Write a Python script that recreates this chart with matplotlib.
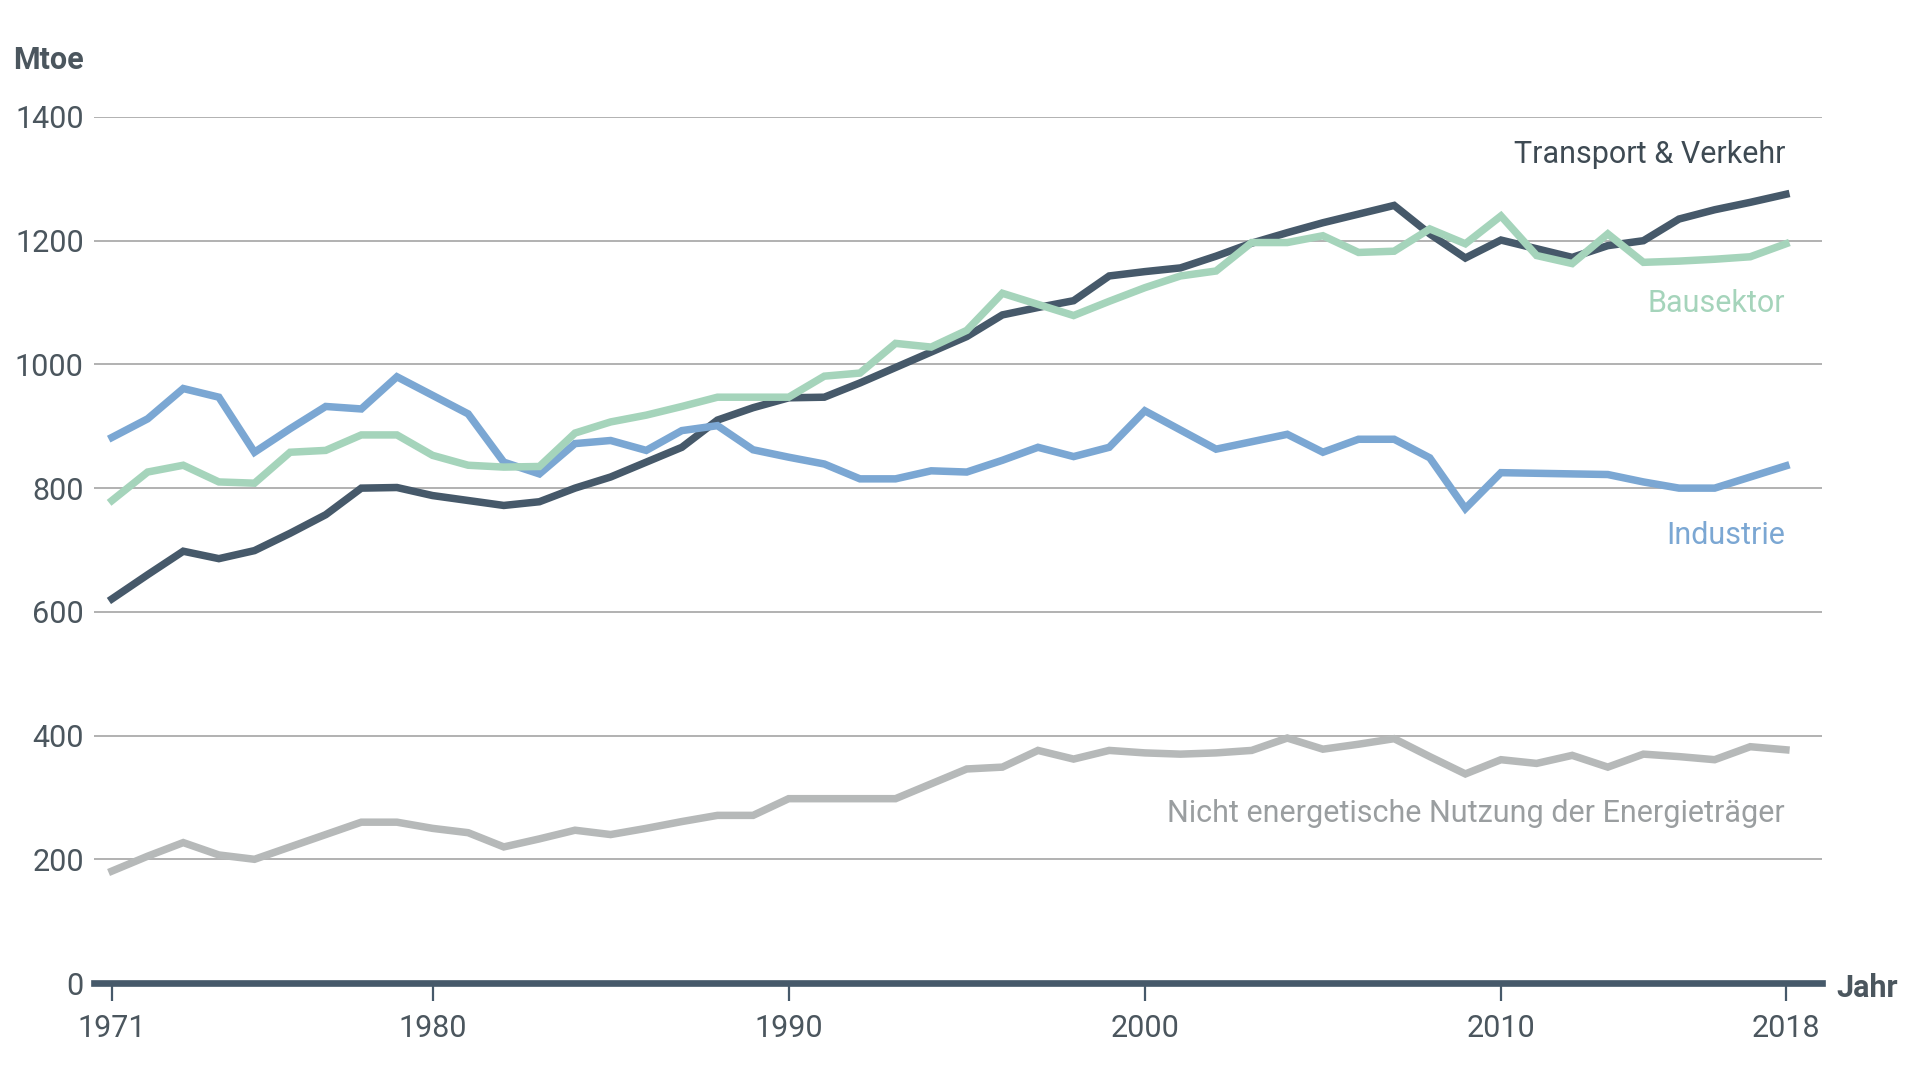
import matplotlib
matplotlib.use("Agg")
from matplotlib import pyplot as plt

plt.rcParams["font.family"] = ["Roboto", "DejaVu Sans"]

years = list(range(1971, 2019))

transport = [621, 660, 698, 686, 699, 727, 757, 800, 801, 788,
             780, 772, 778, 800, 818, 842, 866, 910, 930, 946,
             947, 970, 995, 1020, 1045, 1080, 1092, 1103, 1143, 1150,
             1156, 1175, 1196, 1213, 1229, 1243, 1257, 1211, 1172, 1201,
             1187, 1173, 1192, 1200, 1235, 1250, 1262, 1275]

industrie = [882, 912, 961, 947, 858, 896, 932, 928, 980, 950,
             920, 842, 823, 872, 877, 861, 893, 901, 862, 850,
             839, 815, 815, 828, 826, 845, 866, 851, 866, 925,
             894, 863, 875, 887, 858, 879, 879, 849, 767, 825,
             824, 823, 822, 810, 800, 800, 818, 836]

bausektor = [780, 826, 837, 810, 808, 858, 861, 886, 886, 853,
             837, 834, 835, 889, 907, 918, 932, 947, 947, 947,
             981, 986, 1034, 1028, 1055, 1115, 1097, 1079, 1102, 1124,
             1143, 1151, 1197, 1197, 1208, 1181, 1183, 1219, 1195, 1240,
             1176, 1163, 1211, 1165, 1167, 1170, 1174, 1195]

nicht_energetisch = [181, 205, 227, 207, 200, 220, 240, 260, 260, 250,
                     243, 220, 233, 247, 240, 250, 261, 271, 271, 298,
                     298, 298, 298, 322, 346, 349, 376, 362, 376, 372,
                     370, 372, 376, 396, 378, 386, 395, 366, 338, 361,
                     355, 368, 349, 370, 366, 361, 382, 377]

x_ticks = [1971, 1980, 1990, 2000, 2010, 2018]
y_ticks = [0, 200, 400, 600, 800, 1000, 1200, 1400]

c_dark = "#46596a"
c_blue = "#7ba7d3"
c_green = "#a5d4bb"
c_grey = "#b6b9b9"
c_text = "#4b565e"

fig = plt.figure(figsize=(19.2, 10.8), dpi=100)
ax = fig.add_axes([0.0487, 0.0898, 0.9, 0.8019])

lw = 5.4
ax.plot(years, nicht_energetisch, color=c_grey, lw=lw, solid_joinstyle="miter", zorder=3)
ax.plot(years, transport, color=c_dark, lw=lw, solid_joinstyle="miter", zorder=4)
ax.plot(years, industrie, color=c_blue, lw=lw, solid_joinstyle="miter", zorder=5)
ax.plot(years, bausektor, color=c_green, lw=lw, solid_joinstyle="miter", zorder=6)

ax.set_xlim(1970.48, 2019.0)
ax.set_ylim(0, 1400)
ax.set_xticks(x_ticks)
ax.set_yticks(y_ticks)
ax.set_axisbelow(True)
ax.grid(axis="y", color="#a4a4a4", lw=1.2)

for s in ["top", "right", "left"]:
    ax.spines[s].set_visible(False)
ax.spines["bottom"].set_color(c_dark)
ax.spines["bottom"].set_linewidth(4.8)
ax.spines["bottom"].set_zorder(7)

ax.tick_params(axis="x", direction="out", length=13, width=1.6, color=c_dark,
               pad=9, labelsize=22, labelcolor=c_text)
ax.tick_params(axis="y", length=0, pad=7, labelsize=22, labelcolor=c_text)

# series labels
lab_x = 2017.98
ax.text(lab_x, 1339, "Transport & Verkehr", color="#3e4a53", fontsize=22, ha="right", va="center")
ax.text(lab_x, 1098, "Bausektor", color=c_green, fontsize=22, ha="right", va="center")
ax.text(lab_x, 724, "Industrie", color=c_blue, fontsize=22, ha="right", va="center")
ax.text(lab_x, 274, "Nicht energetische Nutzung der Energieträger", color="#9a9ea0",
        fontsize=22, ha="right", va="center")

# axis titles
fig.text(0.0068, 0.944, "Mtoe", color=c_text, fontsize=22, fontweight="bold", ha="left", va="center")
fig.text(0.9563, 0.0855, "Jahr", color=c_text, fontsize=22, fontweight="bold", ha="left", va="center")

fig.savefig("out.png", dpi=100, facecolor="white")
